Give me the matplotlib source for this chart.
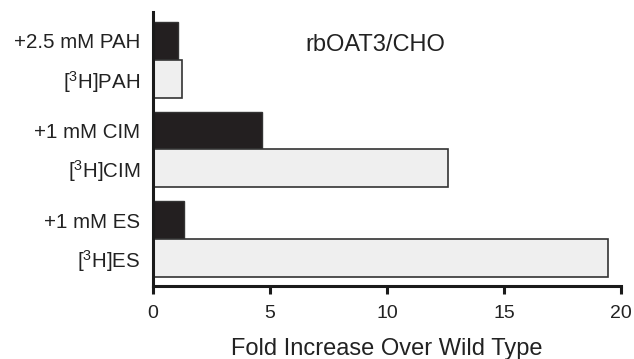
import numpy as np
import matplotlib
matplotlib.use('Agg')
import matplotlib.pyplot as plt

plt.rcParams['font.family'] = ['Liberation Sans', 'DejaVu Sans']
plt.rcParams['mathtext.fontset'] = 'custom'
plt.rcParams['mathtext.rm'] = 'Liberation Sans'
plt.rcParams['mathtext.it'] = 'Liberation Sans'

# Datos (de arriba hacia abajo dentro de cada grupo)
grupos = ['PAH', 'CIM', 'ES']
etiquetas_inhib = ['+2.5 mM PAH', '+1 mM CIM', '+1 mM ES']
etiquetas_trazador = [r'[$^{3}$H]PAH', r'[$^{3}$H]CIM', r'[$^{3}$H]ES']
valores_inhib = [1.07, 4.65, 1.33]
valores_trazador = [1.22, 12.6, 19.45]

fig = plt.figure(figsize=(6.34, 3.59), dpi=100)
ax = fig.add_axes([0.2413, 0.2033, 0.7382, 0.7633])

paso = 2.37  # separación entre grupos (en alturas de barra)
n = len(grupos)
y_traz = np.array([(n - 1 - i) * paso for i in range(n)])
y_inhib = y_traz + 1

ax.barh(y_inhib, valores_inhib, height=1.0, color='#231f20',
        edgecolor='#333333', linewidth=1.0)
ax.barh(y_traz, valores_trazador, height=1.0, color='#efefef',
        edgecolor='#333333', linewidth=1.2)

ax.set_xlim(0, 20)
ax.set_ylim(-0.74, y_inhib[0] + 0.76)
ax.set_xticks([0, 5, 10, 15, 20])

yt = np.concatenate([y_inhib, y_traz])
ax.set_yticks(yt)
ax.set_yticklabels(etiquetas_inhib + etiquetas_trazador)

for s in ['top', 'right']:
    ax.spines[s].set_visible(False)
for s in ['left', 'bottom']:
    ax.spines[s].set_linewidth(2.2)
    ax.spines[s].set_color('#1a1a1a')

ax.tick_params(axis='x', direction='out', length=6, width=2.2,
               labelsize=14, pad=8, color='#1a1a1a', labelcolor='#222222')
ax.tick_params(axis='y', length=0, labelsize=14.8, pad=9, labelcolor='#222222')

ax.set_xlabel('Fold Increase Over Wild Type', fontsize=17, labelpad=11,
              color='#222222')
ax.text(0.474, 0.881, 'rbOAT3/CHO', transform=ax.transAxes, fontsize=17,
        ha='center', va='center', color='#222222')

fig.savefig('out.png', dpi=100)
